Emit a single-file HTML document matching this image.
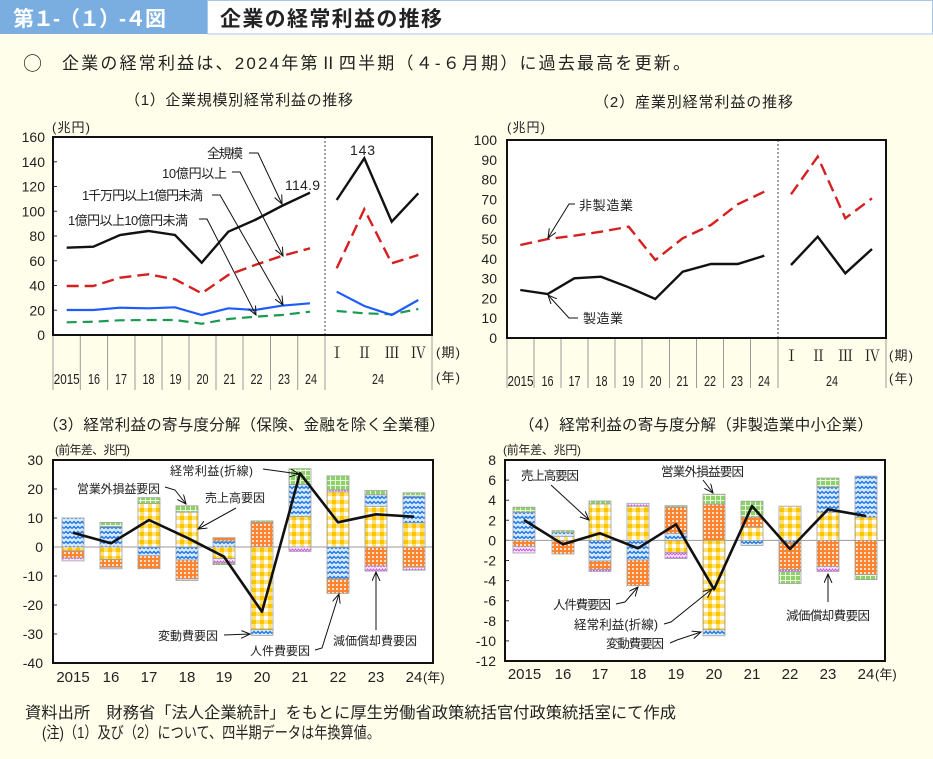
<!DOCTYPE html>
<html><head><meta charset="utf-8">
<style>
html,body{margin:0;padding:0;background:#fffeea;}
svg{display:block;}
text{font-family:"Liberation Sans","Noto Sans CJK JP",sans-serif;fill:#222;}
.j{font-family:"Noto Sans CJK JP",sans-serif;}
.s{font-family:"Liberation Serif","Noto Serif CJK SC",serif;}
.b{stroke:#a0a0a0;stroke-width:0.8;}
.ar{stroke:#111;stroke-width:1;fill:none;}
</style></head>
<body>
<svg width="933" height="759" viewBox="0 0 933 759" xmlns="http://www.w3.org/2000/svg">
<defs>
<pattern id="py" width="8" height="8" patternUnits="userSpaceOnUse">
<rect width="8" height="8" fill="#ffc400"/>
<rect x="0" y="0" width="4" height="8" fill="#ffe070"/>
<rect x="0" y="0" width="8" height="4" fill="#ffe070"/>
<rect x="0" y="0" width="4" height="4" fill="#ffffff"/>
</pattern>
<pattern id="pb" width="8" height="5" patternUnits="userSpaceOnUse">
<rect width="8" height="5" fill="#d8ecff"/>
<path d="M0,3.5 L2,1.5 L4,3.5 L6,1.5 L8,3.5" fill="none" stroke="#2478e6" stroke-width="1.5"/>
</pattern>
<pattern id="po" width="4" height="4" patternUnits="userSpaceOnUse">
<rect width="4" height="4" fill="#ff8430"/>
<rect x="0" y="0" width="2" height="2" fill="#ffe2cc"/>
</pattern>
<pattern id="pp" width="6" height="4" patternUnits="userSpaceOnUse">
<rect width="6" height="4" fill="#fbeeff"/>
<path d="M0,3 L1.5,1 L3,3 L4.5,1 L6,3" fill="none" stroke="#d050f0" stroke-width="1"/>
</pattern>
<pattern id="pg" width="5" height="5" patternUnits="userSpaceOnUse">
<rect width="5" height="5" fill="#8cd268"/>
<path d="M0,0.5 H5 M0.5,0 V5" stroke="#eaf8e0" stroke-width="1"/>
</pattern>
<marker id="ah" markerWidth="10" markerHeight="10" refX="9" refY="4" orient="auto" markerUnits="userSpaceOnUse">
<path d="M0,0 L9,4 L0,8" fill="none" stroke="#111" stroke-width="1"/>
</marker>
</defs>

<!-- Header -->
<rect x="0" y="0" width="207" height="34" fill="#7aaee0"/>
<text x="13" y="26" font-size="21" font-weight="bold" style="fill:#fff" textLength="153">第１-（１）-４図</text>
<rect x="207.5" y="0.5" width="725" height="33.5" fill="#ffffff" stroke="#a6c8ec" stroke-width="1"/>
<text x="220" y="26" font-size="21" font-weight="bold" textLength="222">企業の経常利益の推移</text>

<text x="23" y="70" font-size="19" class="j">○</text>
<text x="62" y="69" font-size="17" textLength="628">企業の経常利益は、2024年第Ⅱ四半期（４-６月期）に過去最高を更新。</text>

<!-- ============ Chart 1 ============ -->
<text x="125" y="105" font-size="15" textLength="228">（1）企業規模別経常利益の推移</text>
<text x="52" y="132" font-size="13" textLength="38">(兆円)</text>
<rect x="53" y="137" width="379" height="198" fill="#fff"/>
<g font-size="14" text-anchor="end">
<text x="45" y="142">160</text><text x="45" y="166.75">140</text><text x="45" y="191.5">120</text>
<text x="45" y="216.25">100</text><text x="45" y="241">80</text><text x="45" y="265.75">60</text>
<text x="45" y="290.5">40</text><text x="45" y="315.25">20</text><text x="45" y="340">0</text>
</g>
<g stroke="#333" stroke-width="1">
<path d="M53,161.75h4M53,186.5h4M53,211.25h4M53,236h4M53,260.75h4M53,285.5h4M53,310.25h4"/>
</g>
<line x1="325" y1="137" x2="325" y2="335" stroke="#444" stroke-width="1" stroke-dasharray="2,2"/>
<g stroke="#9a9a9a" stroke-width="1">
<path d="M53,335V390M80.3,335V390M107.6,335V390M135,335V390M162,335V390M189,335V390M216,335V390M243,335V390M270.5,335V390M297.7,335V390M325,335V390M432,335V390"/>
</g>
<!-- lines chart1 -->
<polyline fill="none" stroke="#1a9a50" stroke-width="2.2" stroke-dasharray="10,6" points="66.7,322.3 93.3,321.7 120,320.3 148.3,320 175,320 201.7,323.7 228.3,319 255,316.7 281.7,315 310,311.7"/>
<polyline fill="none" stroke="#1a9a50" stroke-width="2.2" stroke-dasharray="10,6" points="336.7,311 364.3,313.3 391.7,314.3 418.3,309"/>
<polyline fill="none" stroke="#1f5cff" stroke-width="2.2" points="66.7,310 93.3,310 120,307.7 148.3,308.3 175,307.3 201.7,315 228.3,308.3 255,310 281.7,305.7 310,303.3"/>
<polyline fill="none" stroke="#1f5cff" stroke-width="2.2" points="336.7,291.7 364.3,306 391.7,315 418.3,300"/>
<polyline fill="none" stroke="#d42020" stroke-width="2.4" stroke-dasharray="12,6" points="66.7,286 93.3,286 120,277.7 148.3,274.3 175,279.3 201.7,293.3 228.3,275 255,265 281.7,256 310,248.3"/>
<polyline fill="none" stroke="#d42020" stroke-width="2.4" stroke-dasharray="12,6" points="336.7,268.3 364.3,209.3 391.7,263.3 418.3,255"/>
<polyline fill="none" stroke="#111" stroke-width="2.4" points="66.7,247.7 93.3,246.7 120,235 148.3,231 175,235 201.7,262.7 228.3,231.7 255,220 281.7,206 310,192.7"/>
<polyline fill="none" stroke="#111" stroke-width="2.4" points="336.7,200 364.3,158.3 391.7,221.7 418.3,193.3"/>
<rect x="53" y="137" width="379" height="198" fill="none" stroke="#111" stroke-width="2"/>
<!-- annotations chart1 -->
<text x="207" y="158" font-size="13" textLength="36">全規模</text>
<path class="ar" d="M249,153 H258 L282,204" marker-end="url(#ah)"/>
<text x="162" y="178" font-size="13" textLength="65">10億円以上</text>
<path class="ar" d="M232,172 H240 L283,256" marker-end="url(#ah)"/>
<text x="82" y="200" font-size="13" textLength="121">1千万円以上1億円未満</text>
<path class="ar" d="M212,195 H220 L283,305" marker-end="url(#ah)"/>
<text x="68" y="225" font-size="13" textLength="120">1億円以上10億円未満</text>
<path class="ar" d="M199,219 H207 L256,315" marker-end="url(#ah)"/>
<text x="285" y="190" font-size="14" textLength="35">114.9</text>
<text x="350" y="155" font-size="14" textLength="25">143</text>
<!-- x labels chart1 -->
<g font-size="15" text-anchor="middle">
<text x="66.7" y="384" textLength="26" lengthAdjust="spacingAndGlyphs">2015</text>
<text x="94" y="384" textLength="12" lengthAdjust="spacingAndGlyphs">16</text>
<text x="121" y="384" textLength="12" lengthAdjust="spacingAndGlyphs">17</text>
<text x="148.5" y="384" textLength="12" lengthAdjust="spacingAndGlyphs">18</text>
<text x="175.5" y="384" textLength="12" lengthAdjust="spacingAndGlyphs">19</text>
<text x="202.5" y="384" textLength="12" lengthAdjust="spacingAndGlyphs">20</text>
<text x="229.5" y="384" textLength="12" lengthAdjust="spacingAndGlyphs">21</text>
<text x="256.5" y="384" textLength="12" lengthAdjust="spacingAndGlyphs">22</text>
<text x="284" y="384" textLength="12" lengthAdjust="spacingAndGlyphs">23</text>
<text x="311" y="384" textLength="12" lengthAdjust="spacingAndGlyphs">24</text>
<text x="378" y="384" textLength="12" lengthAdjust="spacingAndGlyphs">24</text>
</g>
<g font-size="15" text-anchor="middle" class="s">
<text class="s" x="337" y="358">Ⅰ</text><text class="s" x="364.5" y="358">Ⅱ</text>
<text class="s" x="392" y="358">Ⅲ</text><text class="s" x="418.5" y="358">Ⅳ</text>
</g>
<text x="436" y="357" font-size="13" textLength="24">(期)</text>
<text x="436" y="382" font-size="13" textLength="24">(年)</text>

<!-- ============ Chart 2 ============ -->
<text x="594" y="107" font-size="15" textLength="199">（2）産業別経常利益の推移</text>
<text x="507" y="132" font-size="13" textLength="38">(兆円)</text>
<rect x="507" y="140" width="379" height="198" fill="#fff"/>
<g font-size="14" text-anchor="end">
<text x="497" y="145">100</text><text x="497" y="164.8">90</text><text x="497" y="184.6">80</text>
<text x="497" y="204.4">70</text><text x="497" y="224.2">60</text><text x="497" y="244">50</text>
<text x="497" y="263.8">40</text><text x="497" y="283.6">30</text><text x="497" y="303.4">20</text>
<text x="497" y="323.2">10</text><text x="497" y="343">0</text>
</g>
<line x1="778" y1="140" x2="778" y2="338" stroke="#444" stroke-width="1" stroke-dasharray="2,2"/>
<g stroke="#9a9a9a" stroke-width="1">
<path d="M507,338V388M534,338V388M561,338V388M588,338V388M615,338V388M642,338V388M669.5,338V388M696.5,338V388M723.5,338V388M750.5,338V388M778,338V388M886,338V388"/>
</g>
<polyline fill="none" stroke="#d42020" stroke-width="2.4" stroke-dasharray="12,6" points="520.3,245 547.7,239 574.3,235.7 601,231.7 628.7,226.7 655.3,260 682.7,238.3 711,225 737.7,204.3 764.3,191.7"/>
<polyline fill="none" stroke="#d42020" stroke-width="2.4" stroke-dasharray="12,6" points="791,194.3 817.7,156.7 845.3,218.3 872,198.3"/>
<polyline fill="none" stroke="#111" stroke-width="2.4" points="520.3,290 547.7,294 574.3,278.3 601,276.7 628.7,287.3 655.3,299 682.7,271.7 711,264 737.7,264 764.3,255.7"/>
<polyline fill="none" stroke="#111" stroke-width="2.4" points="791,265 817.7,236.7 845.3,273.3 872,249"/>
<rect x="507" y="140" width="379" height="198" fill="none" stroke="#111" stroke-width="2"/>
<text x="579" y="210" font-size="13" textLength="54">非製造業</text>
<path class="ar" d="M575,204 H569 L548,238" marker-end="url(#ah)"/>
<text x="583" y="323" font-size="13" textLength="40">製造業</text>
<path class="ar" d="M578,318 H569 L548,295" marker-end="url(#ah)"/>
<g font-size="15" text-anchor="middle">
<text x="520.5" y="386" textLength="26" lengthAdjust="spacingAndGlyphs">2015</text>
<text x="547.5" y="386" textLength="12" lengthAdjust="spacingAndGlyphs">16</text>
<text x="574.5" y="386" textLength="12" lengthAdjust="spacingAndGlyphs">17</text>
<text x="601.5" y="386" textLength="12" lengthAdjust="spacingAndGlyphs">18</text>
<text x="628.5" y="386" textLength="12" lengthAdjust="spacingAndGlyphs">19</text>
<text x="655.5" y="386" textLength="12" lengthAdjust="spacingAndGlyphs">20</text>
<text x="682.5" y="386" textLength="12" lengthAdjust="spacingAndGlyphs">21</text>
<text x="710" y="386" textLength="12" lengthAdjust="spacingAndGlyphs">22</text>
<text x="737" y="386" textLength="12" lengthAdjust="spacingAndGlyphs">23</text>
<text x="764" y="386" textLength="12" lengthAdjust="spacingAndGlyphs">24</text>
<text x="832" y="386" textLength="12" lengthAdjust="spacingAndGlyphs">24</text>
</g>
<g font-size="15" text-anchor="middle">
<text class="s" x="791.5" y="361">Ⅰ</text><text class="s" x="818.5" y="361">Ⅱ</text>
<text class="s" x="845.5" y="361">Ⅲ</text><text class="s" x="872.5" y="361">Ⅳ</text>
</g>
<text x="889" y="360" font-size="13" textLength="24">(期)</text>
<text x="889" y="383" font-size="13" textLength="24">(年)</text>

<!-- ============ Chart 3 ============ -->
<text x="43" y="430" font-size="15.5" textLength="402">（3）経常利益の寄与度分解（保険、金融を除く全業種）</text>
<text x="55" y="454" font-size="12" textLength="75">(前年差、兆円)</text>
<rect x="53" y="460" width="380" height="203" fill="#fff"/>
<g font-size="14" text-anchor="end">
<text x="43" y="465">30</text><text x="43" y="494">20</text><text x="43" y="523">10</text>
<text x="43" y="552">0</text><text x="43" y="581">-10</text><text x="43" y="610">-20</text>
<text x="43" y="639">-30</text><text x="43" y="668">-40</text>
</g>
<g stroke="#333" stroke-width="1"><path d="M53,489h4M53,518h4M53,547h4M53,576h4M53,605h4M53,634h4"/></g>
<line x1="53" y1="547" x2="433" y2="547" stroke="#9a9a9a" stroke-width="1"/>
<g class="b">
<rect x="62" y="518" width="22" height="29" fill="url(#pb)"/><rect x="62" y="547" width="22" height="3.8" fill="url(#py)"/><rect x="62" y="550.8" width="22" height="7.2" fill="url(#po)"/><rect x="62" y="558" width="22" height="2.9" fill="url(#pp)"/>
<rect x="100" y="522.4" width="22" height="4.3" fill="url(#pg)"/><rect x="100" y="526.7" width="22" height="20.3" fill="url(#pb)"/><rect x="100" y="547" width="22" height="12.5" fill="url(#py)"/><rect x="100" y="559.5" width="22" height="7.8" fill="url(#po)"/><rect x="100" y="567.3" width="22" height="1.5" fill="url(#pp)"/>
<rect x="138" y="497.7" width="22" height="5.8" fill="url(#pg)"/><rect x="138" y="503.5" width="22" height="43.5" fill="url(#py)"/><rect x="138" y="547" width="22" height="8.7" fill="url(#pb)"/><rect x="138" y="555.7" width="22" height="13" fill="url(#po)"/>
<rect x="176" y="505.8" width="22" height="6.4" fill="url(#pg)"/><rect x="176" y="512.2" width="22" height="34.8" fill="url(#py)"/><rect x="176" y="547" width="22" height="13" fill="url(#pb)"/><rect x="176" y="560" width="22" height="18.9" fill="url(#po)"/><rect x="176" y="578.9" width="22" height="1.5" fill="url(#pp)"/>
<rect x="213" y="537.7" width="22" height="3.5" fill="url(#po)"/><rect x="213" y="541.2" width="22" height="5.8" fill="url(#pb)"/><rect x="213" y="547" width="22" height="11.6" fill="url(#py)"/><rect x="213" y="558.6" width="22" height="4.4" fill="url(#pp)"/><rect x="213" y="563" width="22" height="1.6" fill="url(#pg)"/>
<rect x="251" y="520.9" width="22" height="1.5" fill="url(#pg)"/><rect x="251" y="522.4" width="22" height="24.6" fill="url(#po)"/><rect x="251" y="547" width="22" height="82.6" fill="url(#py)"/><rect x="251" y="629.6" width="22" height="5.8" fill="url(#pb)"/>
<rect x="289" y="468.7" width="22" height="15.9" fill="url(#pg)"/><rect x="289" y="484.6" width="22" height="31.9" fill="url(#pb)"/><rect x="289" y="516.5" width="22" height="30.5" fill="url(#py)"/><rect x="289" y="547" width="22" height="4.4" fill="url(#pp)"/>
<rect x="327" y="475.9" width="22" height="14" fill="url(#pg)"/><rect x="327" y="489.9" width="22" height="2" fill="url(#pp)"/><rect x="327" y="491.9" width="22" height="55.1" fill="url(#py)"/><rect x="327" y="547" width="22" height="31.9" fill="url(#pb)"/><rect x="327" y="578.9" width="22" height="14.5" fill="url(#po)"/>
<rect x="365" y="490.5" width="22" height="4.3" fill="url(#pg)"/><rect x="365" y="494.8" width="22" height="11.6" fill="url(#pb)"/><rect x="365" y="506.4" width="22" height="40.6" fill="url(#py)"/><rect x="365" y="547" width="22" height="18.9" fill="url(#po)"/><rect x="365" y="565.9" width="22" height="5.2" fill="url(#pp)"/>
<rect x="403" y="492.8" width="22" height="3.5" fill="url(#pg)"/><rect x="403" y="496.3" width="22" height="26.6" fill="url(#pb)"/><rect x="403" y="522.9" width="22" height="24.1" fill="url(#py)"/><rect x="403" y="547" width="22" height="20.3" fill="url(#po)"/><rect x="403" y="567.3" width="22" height="2.9" fill="url(#pp)"/>
</g>
<polyline fill="none" stroke="#111" stroke-width="2.6" stroke-linejoin="round" points="73,532.7 111,543.3 149,520 187,537.7 224,556.7 262,611.7 300,473.3 338,522.3 376,514.3 414,516.7"/>
<rect x="53" y="460" width="380" height="203" fill="none" stroke="#111" stroke-width="2"/>
<text x="170" y="475" font-size="12" textLength="83">経常利益(折線)</text>
<path class="ar" d="M263,469 L299,474" marker-end="url(#ah)"/>
<text x="77" y="493" font-size="12" textLength="83">営業外損益要因</text>
<path class="ar" d="M165,487 L175,490 L186,504" marker-end="url(#ah)"/>
<text x="205" y="502" font-size="12" textLength="60">売上高要因</text>
<path class="ar" d="M236,508 L198,529" marker-end="url(#ah)"/>
<text x="158" y="640" font-size="12" textLength="60">変動費要因</text>
<path class="ar" d="M224,635 L250,634" marker-end="url(#ah)"/>
<text x="250" y="655" font-size="12" textLength="60">人件費要因</text>
<path class="ar" d="M315,650 L322,648 L339,594" marker-end="url(#ah)"/>
<text x="333" y="645" font-size="12" textLength="84">減価償却費要因</text>
<path class="ar" d="M376,630 L376,572" marker-end="url(#ah)"/>
<g font-size="15" text-anchor="middle">
<text x="73" y="682">2015</text><text x="111" y="682">16</text><text x="149" y="682">17</text>
<text x="187" y="682">18</text><text x="224" y="682">19</text><text x="262" y="682">20</text>
<text x="300" y="682">21</text><text x="338" y="682">22</text><text x="376" y="682">23</text>
<text x="414" y="682">24</text>
</g>
<text x="423" y="682" font-size="13">(年)</text>

<!-- ============ Chart 4 ============ -->
<text x="519" y="430" font-size="15.5" textLength="354">（4）経常利益の寄与度分解（非製造業中小企業）</text>
<text x="503" y="454" font-size="12" textLength="78">(前年差、兆円)</text>
<rect x="505" y="460" width="380" height="201" fill="#fff"/>
<g font-size="14" text-anchor="end">
<text x="496" y="465">8</text><text x="496" y="485.1">6</text><text x="496" y="505.2">4</text>
<text x="496" y="525.3">2</text><text x="496" y="545.4">0</text><text x="496" y="565.5">-2</text>
<text x="496" y="585.6">-4</text><text x="496" y="605.7">-6</text><text x="496" y="625.8">-8</text>
<text x="496" y="645.9">-10</text><text x="496" y="666">-12</text>
</g>
<g stroke="#333" stroke-width="1"><path d="M505,480.1h4M505,500.2h4M505,520.3h4M505,540.4h4M505,560.5h4M505,580.6h4M505,600.7h4M505,620.8h4M505,640.9h4"/></g>
<line x1="505" y1="540.4" x2="885" y2="540.4" stroke="#9a9a9a" stroke-width="1"/>
<g class="b">
<rect x="513" y="507.2" width="22" height="5.1" fill="url(#pg)"/><rect x="513" y="512.3" width="22" height="28.1" fill="url(#pb)"/><rect x="513" y="540.4" width="22" height="6" fill="url(#po)"/><rect x="513" y="546.4" width="22" height="6.6" fill="url(#pp)"/>
<rect x="552" y="530.7" width="22" height="2" fill="url(#pg)"/><rect x="552" y="532.7" width="22" height="3.7" fill="url(#pb)"/><rect x="552" y="536.4" width="22" height="4" fill="url(#py)"/><rect x="552" y="540.4" width="22" height="13.6" fill="url(#po)"/>
<rect x="589" y="501" width="22" height="3" fill="url(#pg)"/><rect x="589" y="504" width="22" height="36.4" fill="url(#py)"/><rect x="589" y="540.4" width="22" height="20.6" fill="url(#pb)"/><rect x="589" y="561" width="22" height="8.3" fill="url(#po)"/><rect x="589" y="569.3" width="22" height="2.2" fill="url(#pp)"/>
<rect x="627" y="503.3" width="22" height="3" fill="url(#pp)"/><rect x="627" y="506.3" width="22" height="34.1" fill="url(#py)"/><rect x="627" y="540.4" width="22" height="19.6" fill="url(#pb)"/><rect x="627" y="560" width="22" height="25.7" fill="url(#po)"/>
<rect x="665" y="505.7" width="22" height="1.5" fill="url(#pg)"/><rect x="665" y="507.2" width="22" height="26.2" fill="url(#po)"/><rect x="665" y="533.4" width="22" height="7" fill="url(#pb)"/><rect x="665" y="540.4" width="22" height="12.1" fill="url(#py)"/><rect x="665" y="552.5" width="22" height="6" fill="url(#pp)"/>
<rect x="703" y="494.2" width="22" height="10" fill="url(#pg)"/><rect x="703" y="504.2" width="22" height="36.2" fill="url(#po)"/><rect x="703" y="540.4" width="22" height="89.4" fill="url(#py)"/><rect x="703" y="629.8" width="22" height="6" fill="url(#pb)"/>
<rect x="741" y="501.2" width="22" height="16.1" fill="url(#pg)"/><rect x="741" y="517.3" width="22" height="10" fill="url(#po)"/><rect x="741" y="527.3" width="22" height="13.1" fill="url(#py)"/><rect x="741" y="540.4" width="22" height="5" fill="url(#pb)"/>
<rect x="779" y="506.2" width="22" height="34.2" fill="url(#py)"/><rect x="779" y="540.4" width="22" height="2" fill="url(#pb)"/><rect x="779" y="542.4" width="22" height="27.1" fill="url(#po)"/><rect x="779" y="569.5" width="22" height="2" fill="url(#pp)"/><rect x="779" y="571.5" width="22" height="12" fill="url(#pg)"/>
<rect x="817" y="478.1" width="22" height="9" fill="url(#pg)"/><rect x="817" y="487.1" width="22" height="25.2" fill="url(#pb)"/><rect x="817" y="512.3" width="22" height="28.1" fill="url(#py)"/><rect x="817" y="540.4" width="22" height="26.1" fill="url(#po)"/><rect x="817" y="566.5" width="22" height="5" fill="url(#pp)"/>
<rect x="855" y="476.1" width="22" height="41.2" fill="url(#pb)"/><rect x="855" y="517.3" width="22" height="23.1" fill="url(#py)"/><rect x="855" y="540.4" width="22" height="34.2" fill="url(#po)"/><rect x="855" y="574.6" width="22" height="5" fill="url(#pg)"/>
</g>
<polyline fill="none" stroke="#111" stroke-width="2.6" stroke-linejoin="round" points="524,520 563,544.3 600,533.3 638,548.3 676,524.3 714,589.3 752,506 790,549 828,509.3 866,516"/>
<rect x="505" y="460" width="380" height="201" fill="none" stroke="#111" stroke-width="2"/>
<text x="521" y="480" font-size="12.5" textLength="58">売上高要因</text>
<path class="ar" d="M551,485 L589,520" marker-end="url(#ah)"/>
<text x="661" y="476" font-size="12.5" textLength="83">営業外損益要因</text>
<path class="ar" d="M703,480 L713,493" marker-end="url(#ah)"/>
<text x="553" y="609" font-size="12.5" textLength="58">人件費要因</text>
<path class="ar" d="M616,604 L625,602 L638,587" marker-end="url(#ah)"/>
<text x="574" y="629" font-size="12.5" textLength="84">経常利益(折線)</text>
<path class="ar" d="M664,624 L671,622 L712,589" marker-end="url(#ah)"/>
<text x="606" y="648" font-size="12.5" textLength="58">変動費要因</text>
<path class="ar" d="M670,643 L677,640 L701,632" marker-end="url(#ah)"/>
<text x="786" y="620" font-size="12.5" textLength="84">減価償却費要因</text>
<path class="ar" d="M828,602 L828,574" marker-end="url(#ah)"/>
<g font-size="15" text-anchor="middle">
<text x="524.5" y="679">2015</text><text x="563" y="679">16</text><text x="600" y="679">17</text>
<text x="638" y="679">18</text><text x="676" y="679">19</text><text x="714" y="679">20</text>
<text x="752" y="679">21</text><text x="790" y="679">22</text><text x="828" y="679">23</text>
<text x="866" y="679">24</text>
</g>
<text x="875" y="679" font-size="13">(年)</text>

<!-- Footer -->
<text x="25" y="718" font-size="16" textLength="651" lengthAdjust="spacingAndGlyphs">資料出所　財務省「法人企業統計」をもとに厚生労働省政策統括官付政策統括室にて作成</text>
<text x="42" y="738" font-size="16" textLength="338" lengthAdjust="spacingAndGlyphs">(注)（1）及び（2）について、四半期データは年換算値。</text>
</svg>
</body></html>
